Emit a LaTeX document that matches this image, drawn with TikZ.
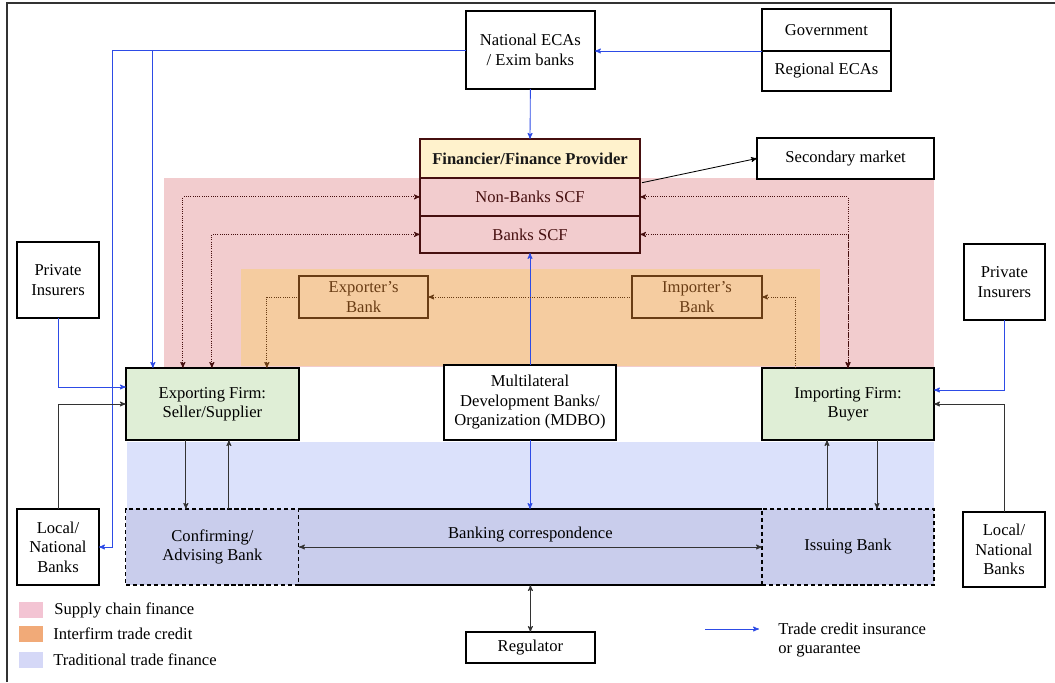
\documentclass[tikz,border=0pt]{standalone}
\usepackage{fontspec}
\setmainfont{Liberation Serif}
\usepackage{tikz}
\usetikzlibrary{arrows, positioning, calc}
\definecolor{scfcolor}{RGB}{242,204,206}
\definecolor{itccolor}{RGB}{245,204,160}
\definecolor{ttfcolor}{RGB}{219,225,251}
\definecolor{bankcolor}{RGB}{201,205,236}
\definecolor{firmcolor}{RGB}{223,238,214}
\definecolor{fincolor}{RGB}{255,242,204}
\definecolor{insblue}{RGB}{45,75,230}
\definecolor{scfline}{RGB}{70,15,15}
\definecolor{itcline}{RGB}{105,60,20}
\definecolor{legscf}{RGB}{243,196,211}
\definecolor{legitc}{RGB}{241,170,120}
\definecolor{legttf}{RGB}{213,216,247}
\tikzset{
  actor/.style={draw, line width=0.9pt, fill=white, align=center,
                inner sep=1pt, outer sep=0pt},
  firm/.style={actor, fill=firmcolor, minimum width=4.32cm,
               minimum height=1.8cm},
  scfrow/.style={draw=scfline, line width=0.9pt, text=scfline,
                 minimum width=5.5cm, align=center, outer sep=0pt},
  itcbank/.style={draw=itcline, line width=0.9pt, text=itcline,
                  minimum width=3.225cm, minimum height=1.05cm,
                  align=center, outer sep=0pt},
  bankrow/.style={fill=bankcolor, minimum height=1.9cm, align=center,
                  outer sep=0pt},
  ins/.style={-stealth', draw=insblue, line width=0.6pt},
  flow/.style={-stealth', draw=black!80, line width=0.6pt},
  scfflow/.style={stealth'-stealth', draw=scfline, densely dotted,
                  line width=0.6pt},
  itcflow/.style={-stealth', draw=itcline, densely dotted, line width=0.6pt},
  legbox/.style={minimum width=0.6cm, minimum height=0.4cm, inner sep=0pt},
  legtext/.style={anchor=west, inner sep=0pt, align=left},
}
\begin{document}
\begin{tikzpicture}[font=\fontsize{11.8}{13.8}\selectfont]
  \useasboundingbox (0,0) rectangle (26.375,-17.05);
  \draw[line width=1pt, black!80] (0.175,-17.05) -- (0.175,-0.075) -- (26.375,-0.075);

  % Areas
  \fill[scfcolor] (4.1,-4.45) rectangle (23.35,-9.175);
  \fill[itccolor] (6.025,-6.725) rectangle (20.5,-9.15);
  \fill[ttfcolor] (3.175,-11.05) rectangle (23.35,-12.725);

  % Top row
  \node[actor, minimum width=3.225cm, minimum height=1.95cm] (ecas) at (13.26,-1.25)
    {National ECAs\\/ Exim banks};
  \node[actor, minimum width=3.225cm, minimum height=1.05cm] (gov) at (20.66,-0.75)
    {Government};
  \node[actor, minimum width=3.225cm, minimum height=1.0cm, below=0pt of gov] (regecas)
    {Regional ECAs};

  % Financier
  \node[scfrow, fill=fincolor, text=black!90, minimum height=0.975cm] (fin) at (13.25,-3.96)
    {\textbf{Financier/Finance Provider}};
  \node[scfrow, minimum height=0.95cm, below=0pt of fin] (nonbank) {Non-Banks SCF};
  \node[scfrow, minimum height=0.925cm, below=0pt of nonbank] (banks) {Banks SCF};
  \node[actor, minimum width=4.425cm, minimum height=1.025cm] (secmkt) at (21.14,-3.96)
    {Secondary market};

  % Interfirm banks
  \node[itcbank] (expbank) at (9.09,-7.425) {Exporter’s\\Bank};
  \node[itcbank, minimum width=3.25cm] (impbank) at (17.425,-7.425) {Importer’s\\Bank};

  % Firms
  \node[firm, minimum width=4.325cm] (expfirm) at (5.31,-10.1) {Exporting Firm:\\Seller/Supplier};
  \node[firm, minimum width=4.3cm] (impfirm) at (21.2,-10.1) {Importing Firm:\\Buyer};
  \node[actor, minimum width=4.3cm, minimum height=1.875cm] (mdbo) at (13.25,-10.06)
    {Multilateral\\Development Banks/\\Organization (MDBO)};

  % Side boxes
  \node[actor, minimum width=2.05cm, minimum height=1.9cm] (privL) at (1.45,-7.0) {Private\\Insurers};
  \node[actor, minimum width=2.05cm, minimum height=1.9cm] (localL) at (1.45,-13.675) {Local/\\National\\Banks};
  \node[actor, minimum width=2.025cm, minimum height=1.9cm] (privR) at (25.11,-7.05) {Private\\Insurers};
  \node[actor, minimum width=2.05cm, minimum height=1.875cm] (localR) at (25.1,-13.74) {Local/\\National\\Banks};

  % Banks row
  \node[bankrow, minimum width=11.575cm] (corr) at (13.26,-13.675) {};
  \draw[line width=0.9pt] (corr.north west) -- (corr.north east);
  \draw[line width=0.9pt] (corr.south west) -- (corr.south east);
  \node (corrlbl) at (13.26,-13.375) {Banking correspondence};
  \node[bankrow, draw, densely dashed, line width=0.8pt, minimum width=4.325cm] (confirm)
    at (5.31,-13.675) {Confirming/\\Advising Bank};
  \node[bankrow, draw, densely dashed, line width=0.8pt, minimum width=4.3cm] (issuing)
    at (21.2,-13.675) {Issuing Bank};
  \node[actor, minimum width=3.225cm, minimum height=0.775cm] (regulator) at (13.26,-16.19)
    {Regulator};

  % Insurance and guarantees
  \draw[ins] (gov.south west) -- (gov.south west -| ecas.east);
  \draw[ins] (ecas.south) -- (fin.north);
  \draw[ins] (ecas.west) -- (2.8,-1.25) |- (localL.east);
  \draw[ins] (ecas.west) -| ($(expfirm.north west)+(0.675,0)$);
  \draw[ins] (mdbo.north) -- (banks.south);
  \draw[ins] (mdbo.south) -- (mdbo.south |- corr.north);
  \draw[ins] (privL.south) |- ($(expfirm.west)+(0,0.425)$);
  \draw[ins] (privR.south) |- ($(impfirm.east)+(0,0.35)$);

  % Local banks
  \draw[flow] (localL.north) |- (expfirm.west);
  \draw[flow] (localR.north) |- (impfirm.east);

  % Supply chain finance
  \draw[-stealth', line width=0.6pt] ($(nonbank.north east)+(0.05,-0.12)$) -- (secmkt.west);
  \draw[scfflow] (nonbank.west) -| ($(expfirm.north west)+(1.425,0)$);
  \draw[scfflow] (banks.west) -| ($(expfirm.north west)+(2.15,0)$);
  \draw[scfflow] (nonbank.east) -| (impfirm.north);
  \draw[scfflow] (banks.east) -| (impfirm.north);

  % Interfirm trade credit
  \draw[itcflow] (impbank.west) -- (expbank.east);
  \draw[itcflow] ($(impfirm.north west)+(0.825,0)$) |- (impbank.east);
  \draw[itcflow] (expbank.west) -| ($(expfirm.north west)+(3.525,0)$);

  % Traditional trade finance
  \draw[flow] ($(expfirm.south west)+(1.5,0)$) -- ($(confirm.north west)+(1.5,0)$);
  \draw[flow] ($(confirm.north west)+(2.575,0)$) -- ($(expfirm.south west)+(2.575,0)$);
  \draw[flow] ($(issuing.north west)+(1.625,0)$) -- ($(impfirm.south west)+(1.625,0)$);
  \draw[flow] ($(impfirm.south west)+(2.875,0)$) -- ($(issuing.north west)+(2.875,0)$);
  \draw[flow, stealth'-stealth'] (confirm.east) -- (issuing.west);
  \draw[flow, stealth'-stealth'] (corr.south) -- (regulator.north);

  % Legend
  \node[legbox, fill=legscf] (legscf) at (0.775,-15.25) {};
  \node[legbox, fill=legitc] (legitc) at (0.775,-15.85) {};
  \node[legbox, fill=legttf] (legttf) at (0.775,-16.49) {};
  \node[legtext] at (1.35,-15.25) {Supply chain finance};
  \node[legtext] at (1.325,-15.85) {Interfirm trade credit};
  \node[legtext] at (1.325,-16.49) {Traditional trade finance};
  \coordinate (lega) at (17.625,-15.725);
  \coordinate (legb) at (18.975,-15.725);
  \draw[ins] (lega) -- (legb);
  \node[legtext] (legins) at (19.45,-16.0) {Trade credit insurance\\or guarantee};
\end{tikzpicture}
\end{document}
